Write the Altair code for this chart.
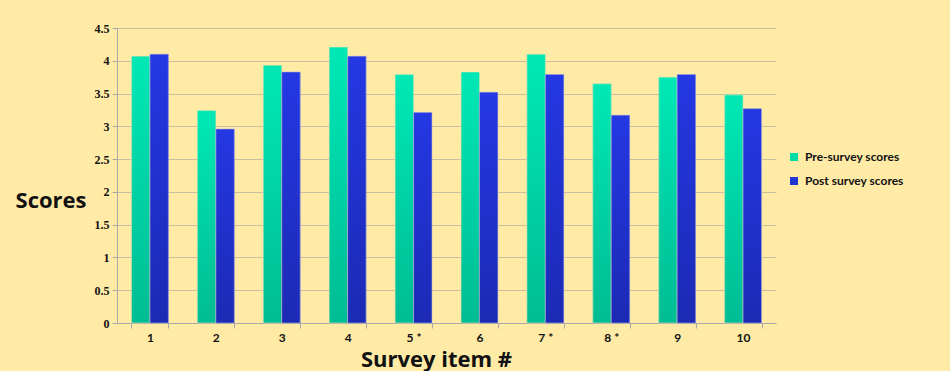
import altair as alt
import pandas as pd

items = ["1", "2", "3", "4", "5 *", "6", "7 *", "8 *", "9", "10"]
pre_scores = [4.07, 3.24, 3.93, 4.21, 3.79, 3.83, 4.10, 3.65, 3.75, 3.48]
post_scores = [4.10, 2.96, 3.83, 4.07, 3.21, 3.52, 3.79, 3.17, 3.79, 3.27]
series_names = ["Pre-survey scores", "Post survey scores"]
series_colors = ["#00D9A8", "#2233D6"]

rows = []
for i, it in enumerate(items):
    rows.append({"item": it, "series": series_names[0], "score": pre_scores[i]})
    rows.append({"item": it, "series": series_names[1], "score": post_scores[i]})
df = pd.DataFrame(rows)

BG = "#FFEAA6"

grad_pre = alt.Gradient(gradient="linear", x1=0, x2=0, y1=0, y2=1,
                        stops=[alt.GradientStop(color="#00E8B6", offset=0),
                               alt.GradientStop(color="#00BC94", offset=1)])
grad_post = alt.Gradient(gradient="linear", x1=0, x2=0, y1=0, y2=1,
                         stops=[alt.GradientStop(color="#2438E4", offset=0),
                                alt.GradientStop(color="#1C2AB4", offset=1)])

x_enc = alt.X("item:N", sort=items,
              scale=alt.Scale(paddingInner=0.44, paddingOuter=0.22),
              axis=alt.Axis(title="Survey item #", labelAngle=0, tickBand="extent",
                            labelFont="Lato", labelFontWeight="bold", labelFontSize=12,
                            labelColor="#111111", labelPadding=4, tickSize=5,
                            tickColor="#A8A8A8", domainColor="#A8A8A8",
                            titleFont="Open Sans", titleFontSize=22, titleFontWeight="bold",
                            titleColor="#111111", titleX=319, titleY=43,
                            titleBaseline="alphabetic", titleAlign="center"))
y_enc = alt.Y("score:Q",
              scale=alt.Scale(domain=[0, 4.5], nice=False),
              axis=alt.Axis(title="Scores", values=[0, 0.5, 1, 1.5, 2, 2.5, 3, 3.5, 4, 4.5],
                            format="~g", labelFont="Liberation Serif", labelFontWeight="bold",
                            labelFontSize=12, labelColor="#111111", labelPadding=3,
                            tickSize=5, tickColor="#A8A8A8", domainColor="#A8A8A8",
                            gridColor="#C9C0A0", gridWidth=1,
                            titleFont="Open Sans", titleFontSize=22, titleFontWeight="bold",
                            titleColor="#111111", titleAngle=0, titleAlign="right",
                            titleBaseline="middle", titleX=-31, titleY=172))
xo = alt.XOffset("series:N", sort=series_names)

base = alt.Chart(df)

legend_layer = base.mark_bar().encode(
    x=x_enc, y=y_enc, xOffset=xo,
    color=alt.Color("series:N", sort=series_names,
                    scale=alt.Scale(domain=series_names, range=series_colors),
                    legend=alt.Legend(title=None, orient="none", legendX=671, legendY=123,
                                      symbolType="square", symbolSize=64, symbolStrokeWidth=0,
                                      labelFont="Lato", labelFontWeight="bold", labelFontSize=12,
                                      labelColor="#111111", rowPadding=12, labelOffset=5)),
)

pre_layer = base.transform_filter(alt.datum.series == series_names[0]).mark_bar(
    fill=grad_pre, stroke="#F3E6B0", strokeWidth=0.6).encode(x=x_enc, y=y_enc, xOffset=xo)
post_layer = base.transform_filter(alt.datum.series == series_names[1]).mark_bar(
    fill=grad_post, stroke="#B8B8D8", strokeWidth=0.6).encode(x=x_enc, y=y_enc, xOffset=xo)

chart = alt.layer(legend_layer, pre_layer, post_layer).properties(
    width=659, height=295,
    background=BG,
    padding={"left": 117, "top": 28, "right": 174, "bottom": 48},
    autosize=alt.AutoSizeParams(type="none"),
).configure_view(stroke=None, fill=BG)

chart.save("out.html", embed_options={"renderer": "svg", "actions": False})
